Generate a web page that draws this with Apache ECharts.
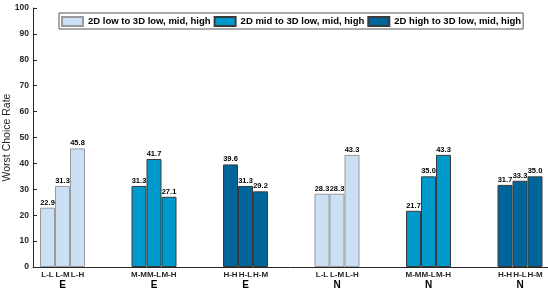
<!DOCTYPE html>
<html>
<head>
<meta charset="utf-8">
<script src="https://cdn.jsdelivr.net/npm/echarts@6/dist/echarts.min.js"></script>
<style>html,body{margin:0;padding:0;background:#fff;}#c{width:548px;height:304px;}</style>
</head>
<body>
<div id="c"></div>
<script>
const categories = ['E', 'E', 'E', 'N', 'N', 'N'];
const subLabels = [
  ['L-L', 'L-M', 'L-H'],
  ['M-M', 'M-L', 'M-H'],
  ['H-H', 'H-L', 'H-M'],
  ['L-L', 'L-M', 'L-H'],
  ['M-M', 'M-L', 'M-H'],
  ['H-H', 'H-L', 'H-M']
];
const seriesNames = ['2D low to 3D low, mid, high', '2D mid to 3D low, mid, high', '2D high to 3D low, mid, high'];
const groupSeries = [0, 1, 2, 0, 1, 2];
const values = [
  [22.9, 31.3, 45.8],
  [31.3, 41.7, 27.1],
  [39.6, 31.3, 29.2],
  [28.3, 28.3, 43.3],
  [21.7, 35.0, 43.3],
  [31.7, 33.3, 35.0]
];
const yTicks = [0, 10, 20, 30, 40, 50, 60, 70, 80, 90, 100];

const colors = ['#cce0f5', '#0099cc', '#006699'];
const borders = ['#9a9a9a', '#3a3a3a', '#3a3a3a'];
const font = 'Liberation Sans, Arial, Helvetica, sans-serif';

const series = [];
for (let c = 0; c < 3; c++) {
  for (let k = 0; k < 3; k++) {
    series.push({
      type: 'bar',
      name: seriesNames[c],
      stack: 'slot' + k,
      xAxisIndex: 0,
      yAxisIndex: 0,
      barWidth: 15,
      barGap: '0%',
      itemStyle: { color: colors[c], borderColor: borders[c], borderWidth: 1 },
      label: {
        show: true, position: 'top', distance: 1,
        fontFamily: font, fontSize: 7.5, fontWeight: 'bold', color: '#000',
        formatter: p => Number(p.value).toFixed(1)
      },
      data: values.map((g, i) => groupSeries[i] === c ? g[k] : '-')
    });
  }
}

const chart = echarts.init(document.getElementById('c'), null, { renderer: 'canvas' });
chart.setOption({
  animation: false,
  backgroundColor: '#fff',
  legend: {
    data: seriesNames,
    left: 59, top: 13,
    orient: 'horizontal',
    itemWidth: 21, itemHeight: 9, itemGap: 3,
    padding: [3, 2, 2, 2],
    borderColor: '#555', borderWidth: 1,
    backgroundColor: '#fff',
    icon: 'rect',
    textStyle: { fontFamily: font, fontSize: 9.5, fontWeight: 'bold', color: '#000' }
  },
  grid: [
    { left: 16.75, top: 8, bottom: 37, width: 549, outerBoundsMode: 'none', containLabel: false },
    { left: 33, top: 8, bottom: 37, right: 0, outerBoundsMode: 'none', containLabel: false }
  ],
  xAxis: [
    {
      type: 'category', gridIndex: 0, data: categories,
      axisLine: { show: false }, axisTick: { show: false },
      axisLabel: {
        interval: 0, margin: 3,
        formatter: (v, i) => subLabels[i].map(s => '{a|' + s + '}').join('') + '\n{e|' + v + '}',
        rich: {
          a: { width: 15, align: 'center', fontFamily: font, fontSize: 8, fontWeight: 'bold', color: '#262626', lineHeight: 10 },
          e: { fontFamily: font, fontSize: 10, fontWeight: 'bold', color: '#000', lineHeight: 11 }
        }
      }
    },
    {
      type: 'value', gridIndex: 1, min: 0, max: 1,
      axisLine: { show: true, lineStyle: { color: '#262626', width: 1 } },
      axisTick: { show: false }, axisLabel: { show: false }, splitLine: { show: false }
    }
  ],
  yAxis: [
    { type: 'value', gridIndex: 0, min: 0, max: 100, show: false },
    {
      type: 'value', gridIndex: 1, min: 0, max: 100, interval: 10,
      axisLine: { show: true, lineStyle: { color: '#262626', width: 1 } },
      axisTick: { show: true, inside: true, length: 4, lineStyle: { color: '#262626' } },
      splitLine: { show: false },
      axisLabel: {
        margin: 4, fontFamily: font, fontSize: 8.5, fontWeight: 'bold', color: '#262626',
        formatter: v => yTicks.includes(v) ? String(v) : ''
      },
      name: 'Worst Choice Rate', nameLocation: 'middle', nameGap: 20, nameMoveOverlap: false,
      nameTextStyle: { fontFamily: font, fontSize: 10.5, color: '#262626' }
    }
  ],
  series: series
});
</script>
</body>
</html>
